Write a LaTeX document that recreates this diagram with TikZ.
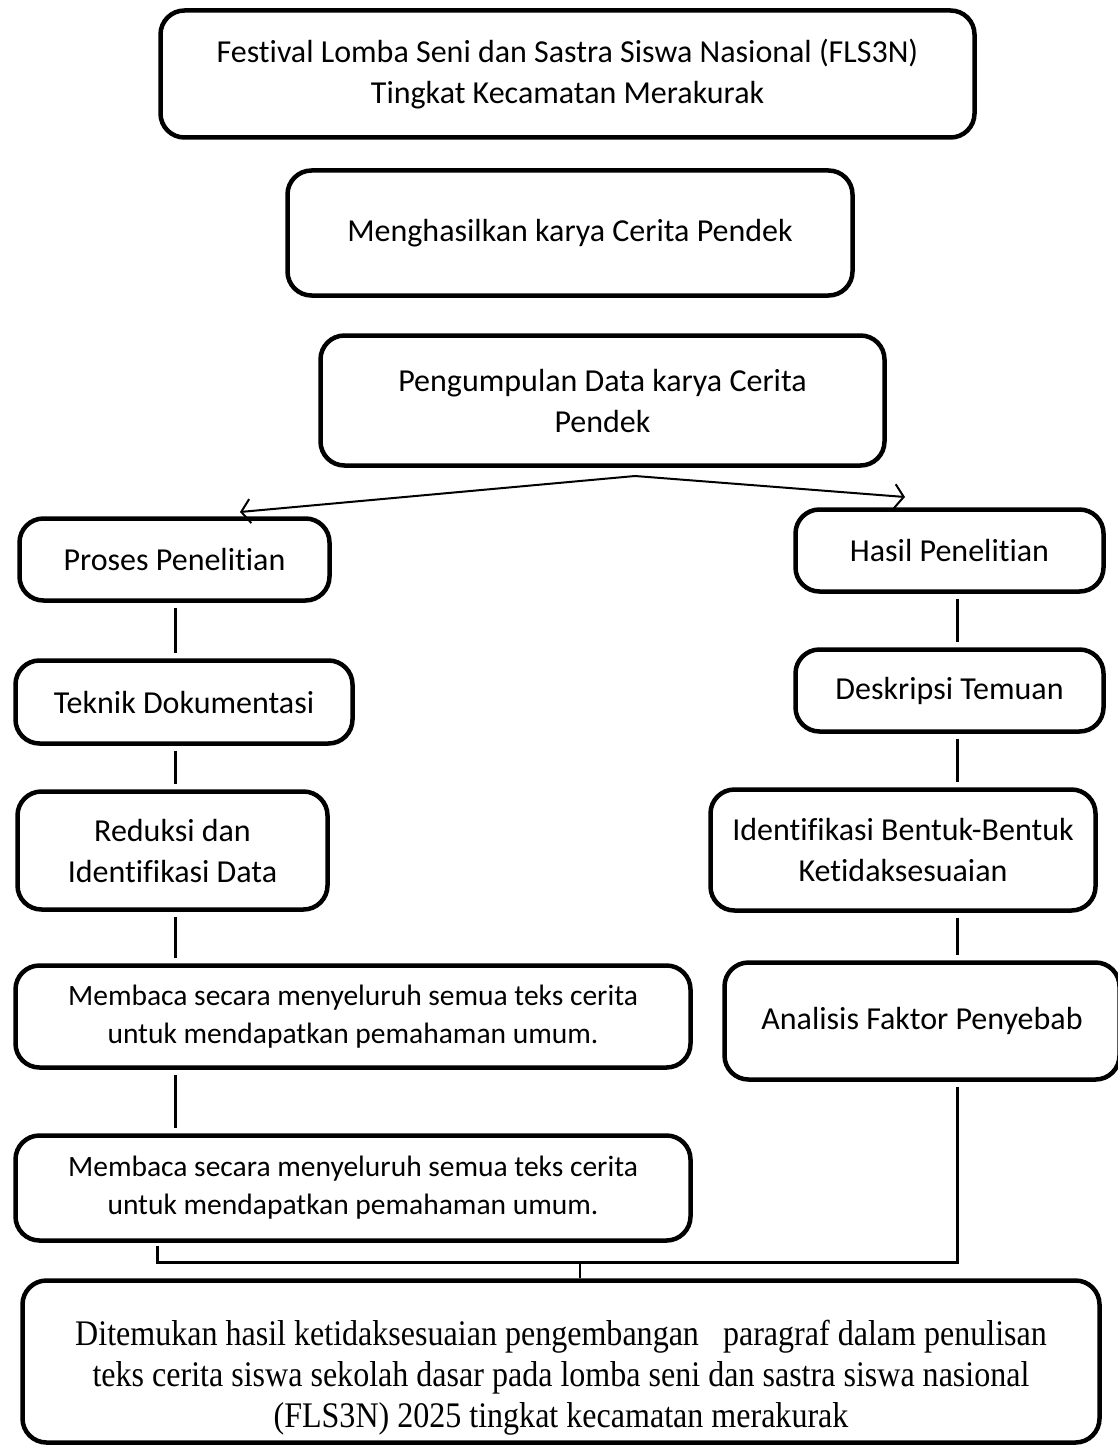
\documentclass[tikz,border=0pt]{standalone}
\usepackage{fontspec}
\setmainfont[Ligatures=NoCommon]{Carlito}
\newfontfamily\timesfont[FakeStretch=0.89]{Liberation Serif}
\usetikzlibrary{arrows.meta}

\begin{document}
\begin{tikzpicture}[x=1pt,y=-1pt,
	box/.style={draw,line width=4.5pt,rounded corners=24pt,align=center,inner sep=0pt,font=\fontsize{32}{41}\selectfont},
	small/.style={font=\fontsize{29.5}{38}\selectfont},
	link/.style={line width=3pt,shorten <=5pt,shorten >=5pt},
	split/.style={line width=2pt,-{Straight Barb[length=9pt,width=24pt,line width=2pt]}}]
		\useasboundingbox (0,0) rectangle (1117,1450);
		% \coordinate (lcol) at (175,0);
		\coordinate (lcol) at (175,0);
		\coordinate (rcol) at (957,0);
		\node[box,minimum width=814pt,minimum height=127pt] (festival) at (567.5,74){Festival Lomba Seni dan Sastra Siswa Nasional (FLS3N)\\Tingkat Kecamatan Merakurak};
		\node[box,minimum width=565pt,minimum height=125pt] (karya) at (570,233){Menghasilkan karya Cerita Pendek};
		\node[box,minimum width=564pt,minimum height=130pt] (kumpul) at (602.5,400.5){Pengumpulan Data karya Cerita\\Pendek};
		\node[box,minimum width=310pt,minimum height=82pt] (proses) at (174.5,559.5){Proses Penelitian};
		\node[box,minimum width=308pt,minimum height=82pt] (hasil) at (949.5,550.5){Hasil Penelitian};
		\node[box,minimum width=337pt,minimum height=83pt] (teknik) at (184,702){Teknik Dokumentasi};
		\node[box,minimum width=308pt,minimum height=82pt] (deskripsi) at (949.5,690.5){Deskripsi Temuan};
		\node[box,minimum width=310pt,minimum height=118pt] (reduksi) at (172.5,850.5){Reduksi dan\\Identifikasi Data};
		\node[box,minimum width=385pt,minimum height=121pt] (bentuk) at (903,850){Identifikasi Bentuk-Bentuk\\Ketidaksesuaian};
		\node[box,small,minimum width=675pt,minimum height=102pt] (bacaA) at (353,1016.5){Membaca secara menyeluruh semua teks cerita\\untuk mendapatkan pemahaman umum.};
		\node[box,minimum width=395pt,minimum height=117pt] (faktor) at (922,1021){Analisis Faktor Penyebab};
		\node[box,small,minimum width=675pt,minimum height=105pt] (bacaB) at (353,1188){Membaca secara menyeluruh semua teks cerita\\untuk mendapatkan pemahaman umum.};
		\node[box,minimum width=1077pt,minimum height=162pt,font=\timesfont\fontsize{36}{41}\selectfont] (temuan) at (561,1361.5){\rule{0pt}{58pt}Ditemukan hasil ketidaksesuaian pengembangan \ \ paragraf dalam penulisan\\teks cerita siswa sekolah dasar pada lomba seni dan sastra siswa nasional\\(FLS3N) 2025 tingkat kecamatan merakurak};
		% arah cabang
		\coordinate (pisah) at (635,476);
		\coordinate (kiri) at (240,512);
		\coordinate (kanan) at (905,497);
		\draw[split] (pisah)--(kiri);
		\draw[split] (pisah)--(kanan);
		% kolom kiri
		\draw[link] (proses.south -| lcol)--(teknik.north -| lcol);
		\draw[link] (teknik.south -| lcol)--(reduksi.north -| lcol);
		\draw[link] (reduksi.south -| lcol)--(bacaA.north -| lcol);
		\draw[link] (bacaA.south -| lcol)--(bacaB.north -| lcol);
		% kolom kanan
		\draw[link] (hasil.south -| rcol)--(deskripsi.north -| rcol);
		\draw[link] (deskripsi.south -| rcol)--(bentuk.north -| rcol);
		\draw[link] (bentuk.south -| rcol)--(faktor.north -| rcol);
		% penutup
		\coordinate (kurung) at (157,0);
		\coordinate (gabung) at (580,1262);
		\draw[line width=3pt] ([yshift=-3pt]bacaB.south -| kurung) |- (gabung) -| ([yshift=-5pt]faktor.south -| rcol);
		\draw[line width=2pt] (gabung)--(gabung |- temuan.north);
		\end{tikzpicture}
\end{document}
